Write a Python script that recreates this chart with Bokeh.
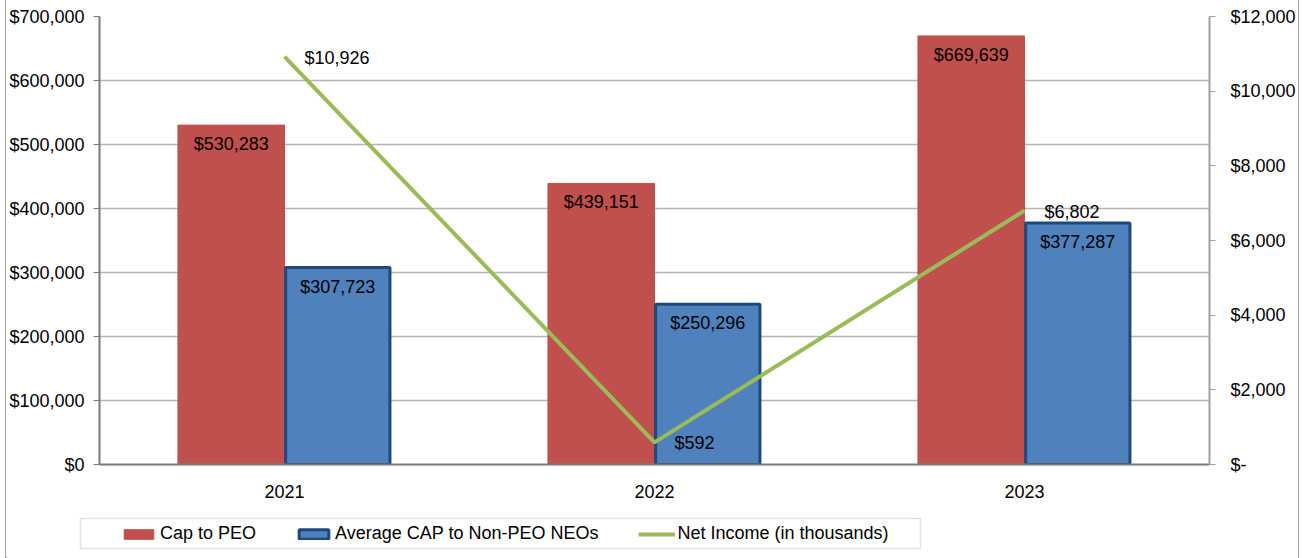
from bokeh.plotting import figure
from bokeh.layouts import column
from bokeh.models import (ColumnDataSource, FactorRange, Range1d, LinearAxis, Legend, LegendItem,
                          NumeralTickFormatter, CustomJSTickFormatter, FixedTicker, BoxAnnotation)
from bokeh.transform import dodge
from bokeh.core.properties import value
from bokeh.embed import file_html
from bokeh.resources import INLINE

years = ["2021", "2022", "2023"]
cap_peo = [530283, 439151, 669639]
cap_neo = [307723, 250296, 377287]
net_income = [10926, 592, 6802]
series_names = ["Cap to PEO", "Average CAP to Non-PEO NEOs", "Net Income (in thousands)"]

def money(v):
    return "${:,}".format(v)

FONT = "Liberation Sans"
FS = "18px"
RED, BLUE, BLUE_EDGE, GREEN = "#C0504D", "#4F81BD", "#1F497D", "#9BBB59"

src = ColumnDataSource(dict(
    year=years, peo=cap_peo, neo=cap_neo, ni=net_income,
    peo_lbl=[money(v) for v in cap_peo],
    neo_lbl=[money(v) for v in cap_neo],
    ni_lbl=[money(v) for v in net_income],
))

W = 1292
p = figure(x_range=FactorRange(*years), y_range=Range1d(0, 700000),
           width=W, height=500, output_backend="svg", toolbar_location=None,
           min_border_left=91, min_border_right=89, min_border_top=16, min_border_bottom=34)
p.extra_y_ranges = {"ni": Range1d(0, 12000)}

bw = 0.288
p.vbar(x=dodge("year", -bw / 2, range=p.x_range), top="peo", width=bw, source=src,
       fill_color=RED, line_color=RED, line_width=1)
p.vbar(x=dodge("year", bw / 2, range=p.x_range), top="neo", width=bw - 0.006, source=src,
       fill_color=BLUE, line_color=BLUE_EDGE, line_width=3)
p.line(x="year", y="ni", source=src, y_range_name="ni", line_color=GREEN, line_width=4)

p.text(x=dodge("year", -bw / 2, range=p.x_range), y="peo", text="peo_lbl", source=src,
       text_align="center", text_baseline="middle", y_offset=19,
       text_font=value(FONT), text_font_size=FS, text_color="#000000")
p.text(x=dodge("year", bw / 2, range=p.x_range), y="neo", text="neo_lbl", source=src,
       text_align="center", text_baseline="middle", y_offset=19,
       text_font=value(FONT), text_font_size=FS, text_color="#000000")
p.text(x="year", y="ni", text="ni_lbl", source=src, y_range_name="ni",
       text_align="left", text_baseline="middle", x_offset=20, y_offset=1,
       text_font=value(FONT), text_font_size=FS, text_color="#000000")

# left axis
la = p.yaxis[0]
la.ticker = FixedTicker(ticks=[i * 100000 for i in range(8)])
la.formatter = NumeralTickFormatter(format="$0,0")
la.axis_line_color = "#7a7a7a"
la.axis_line_width = 2
la.major_tick_line_color = "#7a7a7a"
la.major_tick_out = 6
la.major_tick_in = 0
la.minor_tick_line_color = None
la.major_label_text_font = FONT
la.major_label_text_font_size = FS
la.major_label_text_color = "#000000"
la.major_label_standoff = 9

# right axis
ra = LinearAxis(y_range_name="ni", ticker=FixedTicker(ticks=[i * 2000 for i in range(7)]),
                formatter=CustomJSTickFormatter(code="return tick == 0 ? '$-' : '$' + tick.toLocaleString('en-US');"))
ra.axis_line_color = "#a0a0a0"
ra.axis_line_width = 2
ra.major_tick_line_color = "#a0a0a0"
ra.major_tick_out = 6
ra.major_tick_in = 0
ra.minor_tick_line_color = None
ra.major_label_text_font = FONT
ra.major_label_text_font_size = FS
ra.major_label_text_color = "#000000"
ra.major_label_standoff = 15
p.add_layout(ra, "right")

# x axis
xa = p.xaxis[0]
xa.axis_line_color = "#7a7a7a"
xa.axis_line_width = 2
xa.major_tick_line_color = None
xa.major_label_text_font = FONT
xa.major_label_text_font_size = FS
xa.major_label_text_color = "#000000"
xa.major_label_standoff = 14

p.xgrid.grid_line_color = None
p.ygrid.ticker = FixedTicker(ticks=[i * 100000 for i in range(8)])
p.ygrid.grid_line_color = "#b4b4b4"
p.ygrid.grid_line_width = 1.5
p.outline_line_color = None
p.x_range.range_padding = 0
p.x_range.factor_padding = 0

# legend strip (separate plot so the legend can sit outside the chart frame)
q = figure(width=W, height=58, x_range=Range1d(0, 1), y_range=Range1d(0, 1),
           x_axis_type=None, y_axis_type=None, output_backend="svg", toolbar_location=None,
           min_border_left=0, min_border_right=0, min_border_top=0, min_border_bottom=0)
q.frame_align = False
q.outline_line_color = None
# legend proxies kept outside the visible range
g1 = q.vbar(x=[-9], top=[-9], width=1, fill_color=RED, line_color=RED, line_width=1)
g2 = q.vbar(x=[-9], top=[-9], width=1, fill_color=BLUE, line_color=BLUE_EDGE, line_width=3)
g3 = q.line(x=[-9, -8], y=[-9, -9], line_color=GREEN, line_width=4)
q.add_layout(BoxAnnotation(left=74, right=914, bottom=10, top=40,
                           left_units="screen", right_units="screen",
                           bottom_units="screen", top_units="screen",
                           fill_color=None, line_color="#a0a0a0", line_width=1.5))
legend = Legend(items=[LegendItem(label=n, renderers=[r]) for n, r in zip(series_names, [g1, g2, g3])],
                orientation="horizontal", location=(114, 14))
legend.label_text_font = FONT
legend.label_text_font_size = FS
legend.label_text_color = "#000000"
legend.label_height = 20
legend.glyph_width = 37
legend.glyph_height = 12
legend.label_standoff = 3
legend.spacing = 39
legend.padding = 0
legend.margin = 0
legend.border_line_color = None
legend.background_fill_color = None
q.add_layout(legend, "center")

layout = column(p, q, spacing=0,
                styles={"margin-left": "5px", "border-left": "1px solid #a0a0a0",
                        "border-right": "1px solid #a0a0a0"})

open("out.html", "w").write(file_html(layout, INLINE))
